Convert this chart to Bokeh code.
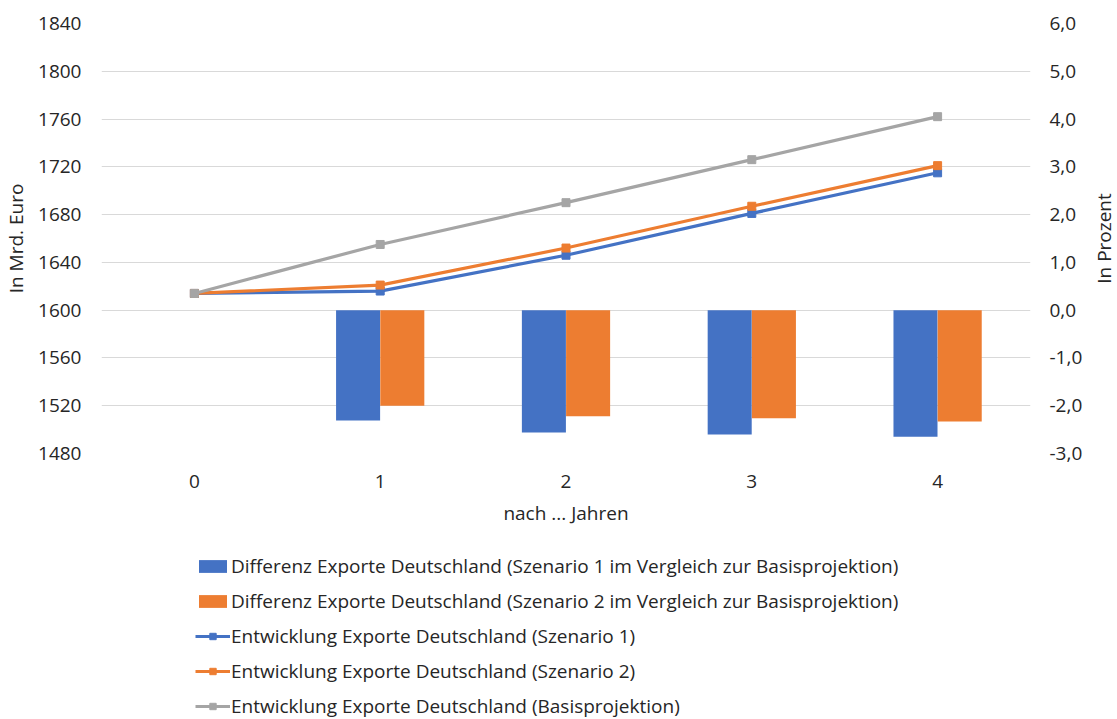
from math import pi

from bokeh.plotting import figure, ColumnDataSource
from bokeh.models import Range1d, LinearAxis, FixedTicker, Legend, LegendItem, Label
from bokeh.layouts import column, row
from bokeh.transform import dodge
from bokeh.embed import file_html
from bokeh.resources import INLINE

# Years after the start of the projection
years = [0, 1, 2, 3, 4]
year_labels = ["0", "1", "2", "3", "4"]

# Exports in bn euro
export_basis = [1614, 1655, 1690, 1726, 1762]
export_s1 = [1614, 1616, 1646, 1681, 1715]
export_s2 = [1614, 1621, 1652, 1687, 1721]

# Difference to the baseline projection in percent
diff_s1 = [0.0, -2.31, -2.56, -2.60, -2.65]
diff_s2 = [0.0, -2.00, -2.22, -2.26, -2.33]

left_ticks = [1480, 1520, 1560, 1600, 1640, 1680, 1720, 1760, 1800, 1840]
right_ticks = [-3.0, -2.0, -1.0, 0.0, 1.0, 2.0, 3.0, 4.0, 5.0, 6.0]

names = [
    "Differenz Exporte Deutschland (Szenario 1 im Vergleich zur Basisprojektion)",
    "Differenz Exporte Deutschland (Szenario 2 im Vergleich zur Basisprojektion)",
    "Entwicklung Exporte Deutschland (Szenario 1)",
    "Entwicklung Exporte Deutschland (Szenario 2)",
    "Entwicklung Exporte Deutschland (Basisprojektion)",
]
left_title = "In Mrd. Euro"
right_title = "In Prozent"
x_title = "nach ... Jahren"

BLUE = "#4472C4"
ORANGE = "#ED7D31"
GREY = "#A5A5A5"
GRID = "#D9D9D9"
TXT = "#262626"
FONT = "Open Sans"
FS = "19px"

W = 1117
W_SIDE = 27
H_CHART = 531
H_LEGEND = 188
TOP, BOTTOM = 23, 78

src = ColumnDataSource(dict(x=years, s1=diff_s1, s2=diff_s2,
                            basis=export_basis, e1=export_s1, e2=export_s2))

p = figure(width=W - W_SIDE, height=H_CHART, output_backend="svg", toolbar_location=None,
           x_range=Range1d(-0.5, 4.5), y_range=Range1d(left_ticks[0], left_ticks[-1]),
           min_border_left=100, min_border_right=60, min_border_top=TOP,
           min_border_bottom=BOTTOM)
p.outline_line_color = None
p.background_fill_color = "white"
p.border_fill_color = "white"

p.extra_y_ranges = {"pct": Range1d(right_ticks[0], right_ticks[-1])}

# grid
p.xgrid.visible = False
p.ygrid.ticker = FixedTicker(ticks=left_ticks)
p.ygrid.grid_line_color = GRID
p.ygrid.grid_line_width = 1

def style_axis(ax):
    ax.axis_line_color = None
    ax.major_tick_line_color = None
    ax.minor_tick_line_color = None
    ax.major_tick_out = 0
    ax.major_tick_in = 0
    ax.minor_tick_out = 0
    ax.minor_tick_in = 0
    ax.major_label_text_font = FONT
    ax.major_label_text_font_size = FS
    ax.major_label_text_color = TXT
    ax.axis_label_text_font = FONT
    ax.axis_label_text_font_size = FS
    ax.axis_label_text_font_style = "normal"
    ax.axis_label_text_color = TXT

# x axis
xa = p.xaxis[0]
style_axis(xa)
xa.ticker = FixedTicker(ticks=years)
xa.major_label_overrides = {y: lab for y, lab in zip(years, year_labels)}
xa.major_label_standoff = 21
xa.axis_label = x_title
xa.axis_label_standoff = 9

# left axis
ya = p.yaxis[0]
style_axis(ya)
ya.ticker = FixedTicker(ticks=left_ticks)
ya.major_label_standoff = 20
ya.axis_label = left_title
ya.axis_label_standoff = 6

# right axis (percent)
ra = LinearAxis(y_range_name="pct")
style_axis(ra)
ra.ticker = FixedTicker(ticks=right_ticks)
ra.major_label_overrides = {t: f"{t:.1f}".replace(".", ",") for t in right_ticks}
ra.major_label_standoff = 19
p.add_layout(ra, "right")

# bars (percent difference, right axis)
bw = 0.237
b1 = dict(x=dodge("x", -0.119, range=p.x_range), top="s1", bottom=0, width=bw,
          source=src, y_range_name="pct", fill_color=BLUE, line_color=None)
b2 = dict(x=dodge("x", 0.119, range=p.x_range), top="s2", bottom=0, width=bw,
          source=src, y_range_name="pct", fill_color=ORANGE, line_color=None)
p.vbar(**b1)
p.vbar(**b2)

# export lines (left axis)
series = [("e1", BLUE), ("e2", ORANGE), ("basis", GREY)]
for col_name, col in series:
    p.line("x", col_name, source=src, line_color=col, line_width=3.2)
    p.scatter("x", col_name, source=src, marker="square", size=8,
              fill_color=col, line_color=col)

# narrow strip on the right carrying the percent axis title (reads upwards)
side = figure(width=W_SIDE, height=H_CHART, output_backend="svg", toolbar_location=None,
              x_range=Range1d(0, 1), y_range=Range1d(0, 1),
              x_axis_type=None, y_axis_type=None,
              min_border_left=0, min_border_right=0, min_border_top=TOP,
              min_border_bottom=BOTTOM)
side.outline_line_color = None
side.xgrid.visible = False
side.ygrid.visible = False
side.border_fill_color = "white"
side.add_layout(Label(x=0.5, y=0.5, text=right_title, angle=pi / 2,
                      text_align="center", text_baseline="middle",
                      text_font=FONT, text_font_size=FS, text_color=TXT))

# legend panel underneath the chart; its ranges keep the series out of view
lg = figure(width=W, height=H_LEGEND, output_backend="svg", toolbar_location=None,
            x_range=Range1d(-0.5, 4.5), y_range=Range1d(1e6, 1e6 + 1),
            x_axis_type=None, y_axis_type=None,
            min_border_left=100, min_border_right=87, min_border_top=0,
            min_border_bottom=0)
lg.outline_line_color = None
lg.xgrid.visible = False
lg.ygrid.visible = False
lg.border_fill_color = "white"
lg.extra_y_ranges = {"pct": Range1d(1e6, 1e6 + 1)}

k1 = lg.vbar(**{**b1, "x": "x"})
k2 = lg.vbar(**{**b2, "x": "x"})
keys = []
for col_name, col in series:
    kl = lg.line("x", col_name, source=src, line_color=col, line_width=3.2)
    km = lg.scatter("x", col_name, source=src, marker="square", size=8,
                    fill_color=col, line_color=col)
    keys.append([kl, km])

legend = Legend(items=[
    LegendItem(label=names[0], renderers=[k1]),
    LegendItem(label=names[1], renderers=[k2]),
    LegendItem(label=names[2], renderers=keys[0]),
    LegendItem(label=names[3], renderers=keys[1]),
    LegendItem(label=names[4], renderers=keys[2]),
], location=(95, 0), orientation="vertical")
legend.border_line_color = None
legend.background_fill_alpha = 0
legend.padding = 0
legend.margin = 0
legend.spacing = 9
legend.glyph_width = 35
legend.glyph_height = 16
legend.label_height = 26
legend.label_standoff = 1
legend.label_text_font = FONT
legend.label_text_font_size = FS
legend.label_text_color = TXT
lg.add_layout(legend, "center")

layout = column(row(p, side, spacing=0), lg, spacing=0)
open("out.html", "w").write(file_html(layout, INLINE))
